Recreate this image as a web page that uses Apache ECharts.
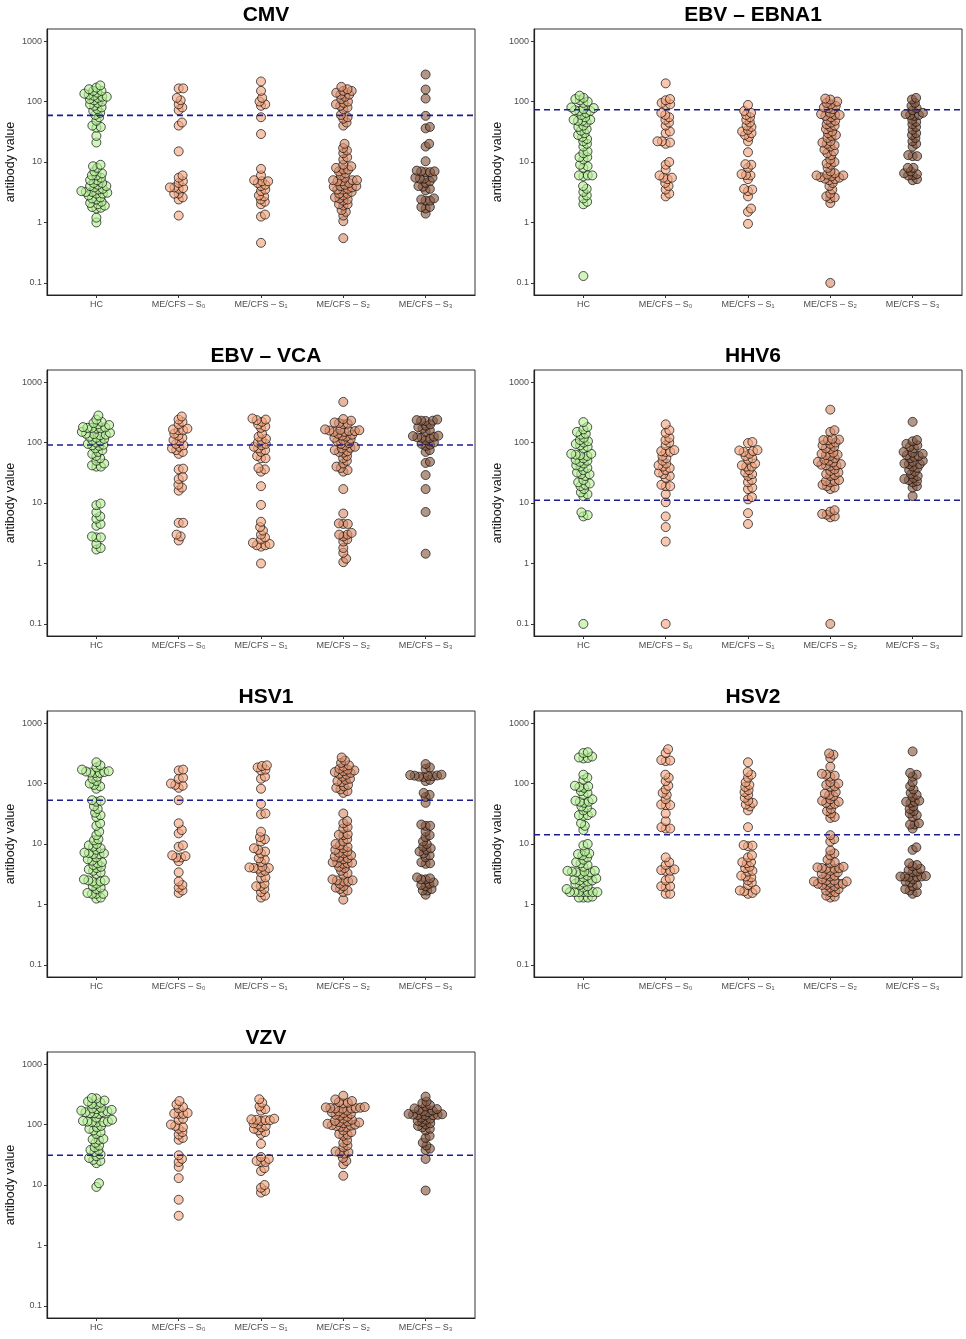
<!DOCTYPE html>
<html>
<head>
<meta charset="utf-8">
<script src="https://cdn.jsdelivr.net/npm/echarts@6/dist/echarts.min.js"></script>
<style>
html, body { margin: 0; padding: 0; background: #fff; }
#chart { width: 966px; height: 1339px; }
</style>
</head>
<body>
<div id="chart"></div>
<script>
var groups = ['HC', 'ME/CFS – S₀', 'ME/CFS – S₁', 'ME/CFS – S₂', 'ME/CFS – S₃'];
var groupColors = ['rgba(181,240,152,0.8)', 'rgba(245,168,130,0.8)', 'rgba(243,164,124,0.8)', 'rgba(217,142,108,0.8)', 'rgba(138,90,68,0.8)'];
var titles = ['CMV', 'EBV – EBNA1', 'EBV – VCA', 'HHV6', 'HSV1', 'HSV2', 'VZV'];
var cutoffs = [59, 73, 91, 11.1, 53, 14.2, 31];

// values per group: HC, S0, S1, S2, S3
var cmv = [
	[185,170,160,150,150,140,135,130,125,120,120,115,110,105,100,95,90,85,80,75,70,65,60,55,48,40,38,37,27,21,9,8.5,8,7,6.5,6,6,5.5,5,5,4.5,4.5,4.2,4,4,3.8,3.6,3.5,3.3,3.2,3.2,3.1,3,3,2.8,2.6,2.5,2.4,2.2,2.1,2,1.9,1.8,1.75,1.7,1.2,1.0],
	[165,165,115,105,90,80,72,45,40,15,6,5.5,4.8,4.5,3.8,3.8,3.7,3.6,3,3,2.6,2.4,1.3],
	[215,150,115,100,90,85,55,29,7.7,6,5,4.8,4.8,4.5,4.2,4,3.5,3.3,2.8,2.7,2.4,2.2,2.0,1.35,1.25,0.46],
	[175,160,150,150,140,130,130,120,110,100,95,90,85,80,75,60,55,52,45,40,20,17,15.5,14,12,11,9,8.5,8,7.5,7.5,7,6.5,6,5.5,5,5,5,4.8,4.8,4.5,4.2,4,4,3.9,3.8,3.6,3.5,3.5,3.2,3,3,2.8,2.6,2.5,2.4,2.3,2,2,1.9,1.6,1.5,1.3,1.05,0.55],
	[280,158,112,58,38,36,20,18,10.3,7.2,7,7,6.8,6.8,5.5,5.5,5.3,5.3,4.8,4.5,4,3.9,3.6,3.4,2.5,2.4,2.3,2.3,1.8,1.8,1.7,1.4]
];
var ebna1 = [
	[125,115,110,105,100,95,80,78,75,72,70,70,65,60,55,50,50,48,48,45,40,38,35,33,30,28,26,24,22,20,18,15,14,12,12,11,9,8.5,8,6,6,6,5.8,4,3.6,3.2,2.8,2.5,2.2,2,0.13],
	[200,110,105,95,90,88,65,60,55,50,45,40,32,30,22,22,21,20,10,9,7.5,6,5.5,5.5,5.2,4.5,4,3.5,3,2.7],
	[88,70,65,60,55,50,45,40,38,34,32,30,28,26,22,14.5,9.2,9,8,6.3,6.1,6,5.2,3.6,3.5,3.3,2.7,1.7,1.5,0.95],
	[112,108,100,95,90,85,80,78,75,65,62,60,60,58,55,50,48,45,42,40,38,35,32,30,28,27,25,22,21,20,19,18,16,15,14,13,11,10,9.5,9,8,7,6.5,6.2,6,6,5.8,5.6,5.5,5.3,5.2,5,4.5,4,3.5,3,2.7,2.6,2.5,2.1,0.1],
	[115,108,95,85,78,72,65,62,60,60,58,50,46,42,38,34,30,28,25,22,20,18,13,12.5,12.5,8,8,7,6.5,6.3,6,6,5.2,5]
];
var vca = [
	[280,240,220,210,200,195,180,178,175,175,172,170,150,145,140,138,135,132,125,120,115,110,105,100,95,92,90,88,80,75,70,65,60,55,50,45,42,40,40,9.8,9.2,7,6,5.5,4.5,4.2,2.8,2.7,2.7,2.1,1.8,1.7],
	[270,240,220,200,170,165,160,160,140,130,120,110,105,95,90,85,80,75,70,65,37,36,27,25,20,18,16,4.7,4.7,3,2.8,2.4],
	[250,240,235,220,200,185,175,140,125,115,110,100,95,90,85,80,75,70,60,55,55,38,36,33,19,9.3,4.9,4,3.5,3,2.7,2.5,2.2,2.1,2,2,1.9,1.0],
	[470,245,230,215,210,205,200,165,162,160,158,155,155,150,150,140,135,130,125,120,115,110,105,98,95,90,85,82,80,75,72,70,68,60,55,50,45,40,38,35,33,17,6.7,4.6,4.5,4.5,3.2,3.0,3.0,2.8,2.5,2.3,1.8,1.5,1.2,1.05],
	[240,235,230,230,228,200,190,180,170,160,150,130,128,125,122,120,118,110,100,95,92,88,75,70,48,46,29,17,7.1,1.45]
];
var hhv6 = [
	[218,180,165,150,140,135,120,110,105,100,95,90,85,80,65,65,63,62,60,55,52,50,48,45,42,40,38,35,32,30,30,28,24,22,21,20,19,17,15,14,13,7.0,6.3,6.0,0.1],
	[200,160,145,120,110,100,90,75,72,70,70,60,55,50,45,42,40,38,35,32,30,28,26,20,19,19,14,10.3,6,4,2.3,0.1],
	[102,98,75,74,72,70,65,60,55,52,45,42,40,40,35,32,30,28,24,22,18,17,12.5,11.5,6.8,4.5],
	[350,160,150,115,112,110,110,100,95,90,85,80,78,68,65,63,62,60,55,52,50,48,47,44,43,42,42,41,36,34,32,30,29,28,24,23,23,22,20,19,18,17,7.6,7.2,6.6,6.4,6,5.8,0.1],
	[220,110,105,95,90,85,80,70,68,65,62,60,58,55,50,48,45,44,44,40,38,35,33,30,28,26,25,24,23,22,19,18,13]
];
var hsv1 = [
	[225,200,185,170,160,158,155,152,150,150,130,120,110,100,95,90,82,53,52,50,42,38,33,30,28,22,20,16,14,12,11.5,10,9.5,9,8.5,8,7.2,7.1,7,6.8,6.8,6,5.6,5.3,5,4.8,4.5,4.2,4,3.8,3.6,3.4,3.2,2.6,2.5,2.5,2.4,2.4,2.2,2.0,1.9,1.8,1.55,1.5,1.5,1.5,1.3,1.25],
	[170,165,125,120,100,95,92,85,53,22,17,15,9.5,9,6.5,6.3,6,6,5.2,3.4,2.4,2.1,1.9,1.7,1.55],
	[200,195,185,170,165,130,120,82,46,32,31,16,13,12,11,8.5,8,7.5,7,5.8,5.5,5,4.2,4.1,4,4,3.9,3.6,3.4,2.8,2.7,2.2,2.0,2.0,1.8,1.6,1.4,1.3],
	[270,240,220,200,190,175,170,165,160,155,150,145,140,130,120,115,110,105,95,90,85,80,75,70,32,24,22,19,18,14.5,14.2,14,12,11,10,9.5,9,8.5,8,7.5,7.2,7,6.5,6.2,6,5.8,5.6,5,4.9,4.9,4.8,4.7,4.2,4,3.6,3.3,3.1,2.6,2.5,2.5,2.4,2.4,2.2,2.0,1.9,1.8,1.7,1.6,1.2],
	[210,185,175,140,138,136,135,134,132,130,128,115,110,70,65,60,48,21,20,20,16,14,13,11,10,9,8.5,8,7.5,7,6.5,6,5,4.8,4.7,2.8,2.7,2.6,2.6,2.3,2.2,2.1,2.0,1.8,1.7,1.7,1.45]
];
var hsv2 = [
	[330,320,280,270,265,260,140,125,115,92,90,88,85,75,70,65,55,52,50,50,48,42,40,36,33,30,30,29,22,20,17,10,9.5,7.5,7,6.8,6.5,6,5.5,5,4.8,4.5,4.2,3.6,3.6,3.5,3.5,3.4,3.4,3.2,3,2.8,2.7,2.6,2.5,2.5,2.4,2.3,2.2,2.1,2.0,1.9,1.8,1.6,1.6,1.6,1.6,1.6,1.6,1.6,1.35,1.3,1.3,1.3],
	[370,320,245,240,235,140,125,110,92,80,70,65,55,45,44,44,32,24,19,18,18,6,5,4.5,3.8,3.7,3.6,3.6,2.7,2.5,2.0,2.0,1.95,1.5,1.5],
	[225,155,140,125,105,95,88,78,72,65,58,52,48,45,42,36,19,9.6,9.4,9.2,6.5,6,5,5,4.8,4.2,4,3.6,3.5,3.0,2.9,2.8,2.5,2.3,2.1,1.75,1.7,1.65,1.55,1.5],
	[315,300,265,190,145,140,135,130,105,100,95,90,88,72,68,65,62,55,52,50,48,46,45,38,35,32,28,27,14,12,11,7.8,7,6.5,5.5,5,4.8,4.2,4.1,4,4,3.9,3.9,3.6,3.4,3.2,3.1,3,2.9,2.6,2.5,2.5,2.4,2.4,2.3,2.2,2.2,2.2,2.1,2.1,2.0,1.9,1.8,1.7,1.6,1.6,1.4,1.35,1.3],
	[340,150,140,130,105,90,80,70,65,60,52,50,50,48,42,38,35,32,30,28,22,21,21,18,8.8,8,4.8,4.5,4.3,3.9,3.7,3.5,3.4,2.95,2.9,2.9,2.9,2.85,2.85,2.6,2.4,2.3,2.1,2.0,1.8,1.7,1.6,1.5]
];
var vzv = [
	[275,270,250,240,230,220,215,190,185,180,175,170,165,160,160,155,155,150,130,120,115,112,112,110,110,108,95,90,85,80,75,70,58,57,56,50,45,42,38,38,35,32,30,28,26,25,23,10.7,9.3],
	[245,215,195,185,155,152,150,150,125,120,100,95,90,85,75,68,60,56,31,27,24,20,13,5.7,3.1],
	[262,230,200,180,170,125,122,120,118,118,115,105,100,95,90,85,80,75,70,48,29,27,25,24,24,19,17,10,9,8,7.5],
	[300,260,245,235,230,225,195,192,190,188,186,185,184,183,170,165,160,155,150,145,140,135,125,120,115,112,110,108,105,103,100,98,96,95,92,90,80,75,70,68,65,55,50,45,42,36,35,34,33,28,25,22,14.2],
	[290,240,225,210,200,185,180,175,170,165,160,150,148,146,145,144,143,142,130,125,120,115,110,105,100,95,90,85,80,65,60,50,45,40,38,27,8.1]
];
var panels = [cmv, ebna1, vca, hhv6, hsv1, hsv2, vzv];

// panel geometry
var colLeft = [47, 534];
var rowTop = [29, 370, 711, 1052];
var gridW = 428, gridH = 266;
var logMin = -1.2, logMax = 3.2;
var xMin = 0.4, xMax = 5.6;
var PX_DEC = gridH / (logMax - logMin);
var PX_UNIT = gridW / (xMax - xMin);
var SPACING = 4.5;

// simple swarm layout: offsets in px, smallest |offset| without collision
function swarm(vals) {
	var pts = vals.map(function (v) { return { v: v, y: Math.log10(v) * PX_DEC, x: 0 }; });
	pts.sort(function (a, b) { return a.y - b.y; });
	var placed = [];
	pts.forEach(function (p) {
		var cands = [0];
		placed.forEach(function (q) {
			var dy = Math.abs(p.y - q.y);
			if (dy < SPACING) {
				var dx = Math.sqrt(SPACING * SPACING - dy * dy);
				cands.push(q.x + dx, q.x - dx);
			}
		});
		cands.sort(function (a, b) { return Math.abs(a) - Math.abs(b); });
		for (var k = 0; k < cands.length; k++) {
			var c = cands[k];
			var ok = placed.every(function (q) {
				var dx = q.x - c, dy = q.y - p.y;
				return dx * dx + dy * dy >= SPACING * SPACING - 1e-6;
			});
			if (ok) { p.x = c; break; }
		}
		placed.push(p);
	});
	return placed;
}

var font = 'Liberation Sans, Arial, sans-serif';
var grid = [], xAxis = [], yAxis = [], title = [], series = [];

panels.forEach(function (panel, i) {
	var col = i % 2, row = Math.floor(i / 2);
	grid.push({
		left: colLeft[col], top: rowTop[row], width: gridW, height: gridH,
		show: true, borderColor: '#333', borderWidth: 1, containLabel: false
	});
	title.push({
		text: titles[i],
		left: colLeft[col] + gridW / 2,
		top: rowTop[row] - 29,
		textAlign: 'center',
		textStyle: { fontFamily: font, fontSize: 21, fontWeight: 'bold', color: '#000' }
	});
	xAxis.push({
		gridIndex: i, type: 'value', min: xMin, max: xMax,
		axisLine: { show: true, onZero: false, lineStyle: { color: '#222', width: 1.2 } },
		axisTick: { show: true, customValues: [1, 2, 3, 4, 5], length: 3, lineStyle: { color: '#333' } },
		axisLabel: {
			customValues: [1, 2, 3, 4, 5],
			formatter: function (v) { return groups[Math.round(v) - 1]; },
			fontFamily: font, fontSize: 9, color: '#4d4d4d', margin: 5
		},
		splitLine: { show: false }
	});
	yAxis.push({
		gridIndex: i, type: 'log', logBase: 10,
		min: Math.pow(10, logMin), max: Math.pow(10, logMax),
		axisLine: { show: true, lineStyle: { color: '#222', width: 1.2 } },
		axisTick: { show: true, length: 3, lineStyle: { color: '#333' } },
		axisLabel: {
			showMinLabel: false, showMaxLabel: false,
			formatter: function (v) {
				var l = Math.log10(v);
				if (Math.abs(l - Math.round(l)) > 1e-6) return '';
				return String(+v.toPrecision(3));
			},
			fontFamily: font, fontSize: 9, color: '#4d4d4d', margin: 5
		},
		splitLine: { show: false },
		name: 'antibody value', nameLocation: 'middle', nameGap: 30,
		nameTextStyle: { fontFamily: font, fontSize: 12.5, color: '#111' }
	});
	panel.forEach(function (vals, g) {
		var pts = swarm(vals);
		series.push({
			type: 'scatter', xAxisIndex: i, yAxisIndex: i,
			symbol: 'circle', symbolSize: 9,
			itemStyle: { color: groupColors[g], borderColor: '#111', borderWidth: 0.9 },
			emphasis: { disabled: true },
			data: pts.map(function (p) { return [g + 1 + p.x / PX_UNIT, p.v]; }),
			z: 2
		});
	});
	series.push({
		type: 'line', xAxisIndex: i, yAxisIndex: i,
		data: [[xMin, cutoffs[i]], [xMax, cutoffs[i]]],
		symbol: 'none', silent: true,
		lineStyle: { color: '#1c1c8f', width: 1.6, type: [6, 4] },
		z: 5
	});
});

var myChart = echarts.init(document.getElementById('chart'), null, { renderer: 'canvas' });
myChart.setOption({
	animation: false,
	backgroundColor: '#fff',
	textStyle: { fontFamily: font },
	title: title,
	grid: grid,
	xAxis: xAxis,
	yAxis: yAxis,
	series: series
});
</script>
</body>
</html>
